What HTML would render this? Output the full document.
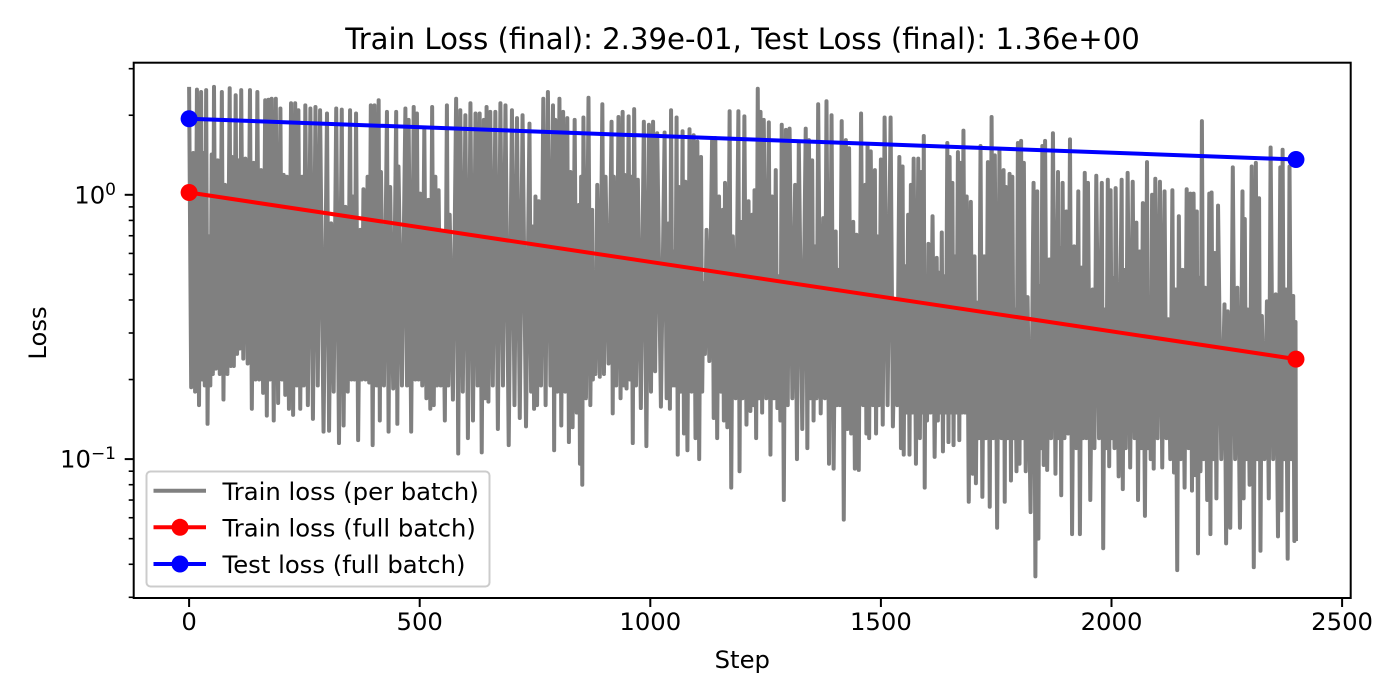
<!DOCTYPE html>
<html lang="en">
<head>
<meta charset="utf-8">
<title>Train and test loss</title>
<style>
html,body{margin:0;padding:0;background:#fff;width:1400px;height:700px;overflow:hidden}
svg{display:block}
text{font-family:"DejaVu Sans","Liberation Sans",sans-serif;fill:#000}
</style>
</head>
<body>
<svg id="chart" xmlns="http://www.w3.org/2000/svg" width="1400" height="700" viewBox="0 0 1400 700">
  <rect x="0" y="0" width="1400" height="700" fill="#fff"/>
  <g id="marks"></g>
  <rect x="133.7" y="62.7" width="1217" height="535.3" fill="none" stroke="#000" stroke-width="2"/>
  <g id="ticks"></g>
  <text x="742.5" y="49" font-size="29.15" text-anchor="middle">Train Loss (final): 2.39e-01, Test Loss (final): 1.36e+00</text>
  <text x="742.3" y="668" font-size="24.3" text-anchor="middle">Step</text>
  <text x="0" y="0" font-size="24.3" text-anchor="middle" transform="translate(46,333) rotate(-90)">Loss</text>
  <g>
    <rect x="146.5" y="471.5" width="343" height="115" rx="4" ry="4" fill="#fff" fill-opacity="0.8" stroke="#ccc" stroke-width="2"/>
    <line x1="153.5" y1="490.7" x2="206" y2="490.7" stroke="#808080" stroke-width="4"/>
    <text x="222.5" y="500" font-size="24.3">Train loss (per batch)</text>
    <line x1="153.5" y1="527.3" x2="206" y2="527.3" stroke="#f00" stroke-width="4"/>
    <circle cx="180" cy="527.3" r="8.5" fill="#f00"/>
    <text x="222.5" y="536.5" font-size="24.3">Train loss (full batch)</text>
    <line x1="153.5" y1="564" x2="206" y2="564" stroke="#00f" stroke-width="4"/>
    <circle cx="180" cy="564" r="8.5" fill="#00f"/>
    <text x="222.5" y="573" font-size="24.3">Test loss (full batch)</text>
  </g>
</svg>
<script>
const batchPeakSteps = [
0,9,17,26,31,37,43,49,54,62,
71,78,88,93,101,107,113,122,132,140,
148,156,165,172,179,188,198,205,212,221,
230,237,245,252,263,274,284,299,308,319,
331,339,349,355,362,371,378,387,394,402,
411,416,429,436,449,454,469,476,487,494,
501,510,519,527,534,541,550,559,565,579,
588,599,610,621,630,639,645,653,664,675,
686,700,711,723,738,745,751,758,768,778,
789,794,803,811,820,827,836,845,850,855,
866,874,877,885,896,903,916,921,931,940,
944,953,959,965,973,986,997,1006,1015,1031,
1040,1045,1051,1057,1062,1070,1076,1085,1094,1102,
1110,1115,1122,1134,1141,1149,1157,1162,1172,1179,
1191,1196,1204,1213,1221,1226,1233,1239,1246,1257,
1264,1272,1279,1285,1294,1302,1314,1322,1337,1344,
1351,1357,1364,1375,1382,1393,1402,1407,1415,1424,
1431,1440,1447,1457,1466,1471,1478,1487,1492,1500,
1508,1521,1531,1540,1547,1552,1559,1565,1571,1581,
1588,1593,1597,1603,1612,1621,1626,1632,1637,1644,
1649,1655,1660,1667,1673,1679,
1686,1695,1703,1709,1716,1724,1732,1740,1747,1757,
1766,1771,1779,1785,1791,1797,1804,1810,1818,1831,
1839,1844,1850,1856,1865,1873,1884,1888,1894,1902,
1910,1919,1928,1935,1942,1949,1959,1967,1979,1985,
1992,1998,2004,2009,2022,2027,2035,2046,2054,2061,
2068,2077,2082,2088,2095,2105,2115,2123,2132,2139,
2146,2154,2163,2171,2178,2185,2190,2196,2203,2212,
2217,2224,2231,2245,2252,2263,2273,2284,2289,2295,
2304,2313,2320,2326,2337,2345,2356,2366,2371,2378,
2386,2394,2399];
const batchPeakLoss = [
2.56,1.44,2.50,2.45,1.44,2.49,.696,1.42,2.56,1.35,
2.45,1.09,2.53,1.39,2.38,1.35,2.49,1.37,2.49,1.32,
2.45,1.24,2.28,2.29,2.31,2.31,2.12,1.19,1.17,2.22,
2.22,2.09,1.17,2.18,2.12,2.15,2.09,2.03,.78,2.12,
2.1,.9,2.09,.985,2.03,.737,1.05,1.17,2.18,2.18,
2.28,1.22,2.06,1.07,2.06,1.28,2.12,1.92,2.15,2.03,
1.01,1.78,.957,2.15,1.17,1.04,.716,2.18,.84,2.31,
2.09,2,2.22,2.03,2.03,1.92,2.15,2.06,2.06,2.22,
2.18,2.09,1.95,2,1.86,.759,.985,.945,2.31,2.45,
2.18,1.92,2.31,2.06,1.95,1.22,1.92,.915,1.17,1.96,
2.33,.877,.478,1.09,2.2,1.17,1.89,1.17,1.97,2.06,
1.19,1.98,1.17,2.11,1.14,1.89,1.84,1.89,1.71,1.72,
.78,2.09,.61,1.96,1.07,1.74,1.12,1.77,1.68,1.59,
1.39,.464,.737,1.64,1.64,.985,.877,1.11,2.07,.696,
2.07,.79,1.98,.945,.84,1.04,2.52,2.06,1.92,1.88,
.985,1.24,.492,1.84,1.76,1.78,1.09,1.57,1.78,1.61,
1.35,.638,2.2,.816,2.26,2,.726,.52,1.9,1.61,
1.5,.79,.706,2.03,1.09,1.54,1.46,1.24,.696,1.36,
1.96,1.96,.397,1.39,1.28,.537,.84,1.09,1.37,1.37,
1.22,1.67,.451,.652,.83,.577,.507,.72,.492,1.57,
1.39,1.11,.585,1.45,1.32,1.75,
.985,.94,.585,.391,1.53,.585,1.33,1.97,1.41,1.48,
1.24,1.07,1.2,1.17,.368,1.57,1.6,1.32,.41,1.11,
1.03,.451,1.53,1.6,.569,1.71,1.22,.63,1.11,.865,
1.62,.638,1.03,.53,1.21,1.11,.438,1.18,1.11,.368,
1.14,1.04,.485,1.06,1.14,.52,1.21,1.12,.785,.61,
.93,1.33,.385,1,1.15,1.12,1.03,.338,1.04,.438,
.83,.52,1.05,1.01,1.01,.865,.485,1.9,.445,1.01,
1.02,.602,.91,.385,.362,1.27,.445,1.03,.81,.368,
1.28,1.32,.97,.348,.395,1.51,.42,1.27,1.48,.438,
1.28,.414,.33];
const batchTroughLoss = [
.187,.18,.16,.2,.19,.136,.19,.21,.22,.21,
.168,.21,.225,.225,.25,.262,.24,.23,.155,.2,
.2,.178,.146,.2,.14,.163,.2,.175,.155,.147,
.19,.155,.19,.16,.142,.19,.127,.128,.18,.115,
.134,.18,.2,.2,.118,.2,.2,.195,.113,.19,
.14,.19,.127,.185,.136,.19,.19,.127,.2,.2,
.19,.17,.155,.16,.19,.19,.14,.19,.168,.105,
.18,.12,.14,.19,.106,.17,.165,.19,.13,.19,
.113,.16,.143,.133,.18,.155,.16,.19,.16,.19,
.108,.18,.134,.18,.116,.132,.15,.096,.08,.17,
.16,.2,.21,.205,.21,.23,.149,.19,.17,.19,
.185,.2,.115,.19,.156,.112,.18,.215,.158,.17,
.155,.19,.19,.104,.18,.125,.108,.18,.12,.1,
.18,.25,.235,.143,.12,.18,.14,.132,.078,.17,
.09,.17,.135,.152,.16,.12,.17,.15,.17,.104,
.17,.156,.14,.07,.16,.17,.1,.13,.11,.17,
.14,.17,.149,.17,.096,.092,.16,.16,.059,.13,
.125,.092,.091,.16,.125,.12,.16,.125,.16,.135,
.16,.133,.16,.11,.104,.15,.104,.15,.096,.12,
.15,.078,.14,.15,.102,.14,.15,.107,.15,.116,
.15,.113,.15,.118,.15,.15,
.069,.088,.081,.12,.072,.12,.066,.12,.055,.12,
.069,.12,.083,.12,.09,.096,.12,.09,.063,.036,
.05,.11,.095,.091,.12,.088,.12,.073,.12,.125,
.052,.11,.052,.12,.12,.07,.11,.12,.046,.11,
.094,.12,.11,.086,.077,.11,.093,.12,.07,.11,
.061,.11,.1,.092,.12,.093,.12,.1,.089,.038,
.1,.078,.11,.076,.087,.044,.09,.1,.07,.052,
.1,.071,.1,.048,.055,.1,.055,.071,.1,.08,
.039,.1,.045,.1,.071,.1,.051,.064,.1,.042,
.1,.049,.049];
const fullBatchSteps = [0, 2400];
const trainFullLoss = [1.02, 0.239];
const testFullLoss = [1.94, 1.36];
const xTickValues = [0, 500, 1000, 1500, 2000, 2500];
const xTickLabels = ['0', '500', '1000', '1500', '2000', '2500'];
const yMajorValues = [1, 0.1];
const yMajorBase = ['10', '10'];
const yMajorExponents = ['0', '\u22121'];
const yMinorValues = [3, 2, 0.9, 0.8, 0.7, 0.6, 0.5, 0.4, 0.3, 0.2, 0.09, 0.08, 0.07, 0.06, 0.05, 0.04, 0.03];

const SVG_NS = 'http://www.w3.org/2000/svg';
const PLOT = { zeroX: 189.1, pxPerStep: 0.4612, oneY: 194.8, pxPerDecade: 264.3, frameLeft: 133.7, frameBottom: 598 };
function xScale(step) { return PLOT.zeroX + step * PLOT.pxPerStep; }
function yScale(loss) { return PLOT.oneY - Math.log10(loss) * PLOT.pxPerDecade; }
function make(tag, attrs) {
  const el = document.createElementNS(SVG_NS, tag);
  Object.keys(attrs).forEach(function (k) { el.setAttribute(k, attrs[k]); });
  return el;
}
const marks = document.getElementById('marks');
const ticks = document.getElementById('ticks');

// Per-batch loss: one zig-zag path through each peak and the trough that follows it
const batchPoints = [];
batchPeakSteps.forEach(function (step, i) {
  batchPoints.push(xScale(step).toFixed(2) + ',' + yScale(batchPeakLoss[i]).toFixed(2));
  const next = i + 1 < batchPeakSteps.length ? batchPeakSteps[i + 1] : step + 2;
  batchPoints.push(xScale((step + next) / 2).toFixed(2) + ',' + yScale(batchTroughLoss[i]).toFixed(2));
});
const batchLine = make('polyline', { points: batchPoints.join(' '), fill: 'none', stroke: '#808080', 'stroke-width': 4, 'stroke-linejoin': 'round', 'stroke-linecap': 'butt' });


marks.appendChild(batchLine);

function drawFullSeries(values, color, lineName, pointName) {
  const pts = fullBatchSteps.map(function (s, i) { return xScale(s) + ',' + yScale(values[i]); }).join(' ');
  const line = make('polyline', { points: pts, fill: 'none', stroke: color, 'stroke-width': 4 });
  
  
  marks.appendChild(line);
  fullBatchSteps.forEach(function (s, i) {
    const dot = make('circle', { cx: xScale(s), cy: yScale(values[i]), r: 8.5, fill: color });
    
    
    marks.appendChild(dot);
  });
}
drawFullSeries(trainFullLoss, '#f00', 'train-loss-full-batch-line', 'train-loss-full-batch-point');
drawFullSeries(testFullLoss, '#00f', 'test-loss-full-batch-line', 'test-loss-full-batch-point');

// X axis
xTickValues.forEach(function (v, i) {
  const x = xScale(v);
  const t = make('line', { x1: x, x2: x, y1: PLOT.frameBottom, y2: PLOT.frameBottom + 9, stroke: '#000', 'stroke-width': 2 });
  
  
  ticks.appendChild(t);
  const label = make('text', { x: x, y: 630, 'font-size': 24.3, 'text-anchor': 'middle' });
  
  
  label.textContent = xTickLabels[i];
  ticks.appendChild(label);
});

// Y axis
yMajorValues.forEach(function (v, i) {
  const y = yScale(v);
  const t = make('line', { x1: PLOT.frameLeft - 9, x2: PLOT.frameLeft, y1: y, y2: y, stroke: '#000', 'stroke-width': 2 });
  
  
  ticks.appendChild(t);
  const label = make('text', { x: 116, y: y + 8.6, 'font-size': 24.3, 'text-anchor': 'end' });
  
  
  const base = make('tspan', {});
  base.textContent = yMajorBase[i];
  const exp = make('tspan', { dy: -8.6, 'font-size': 17 });
  exp.textContent = yMajorExponents[i];
  label.appendChild(base);
  label.appendChild(exp);
  ticks.appendChild(label);
});
yMinorValues.forEach(function (v) {
  const y = yScale(v);
  const t = make('line', { x1: PLOT.frameLeft - 5, x2: PLOT.frameLeft, y1: y, y2: y, stroke: '#000', 'stroke-width': 1.6 });
  
  
  ticks.appendChild(t);
});
</script>
</body>
</html>
